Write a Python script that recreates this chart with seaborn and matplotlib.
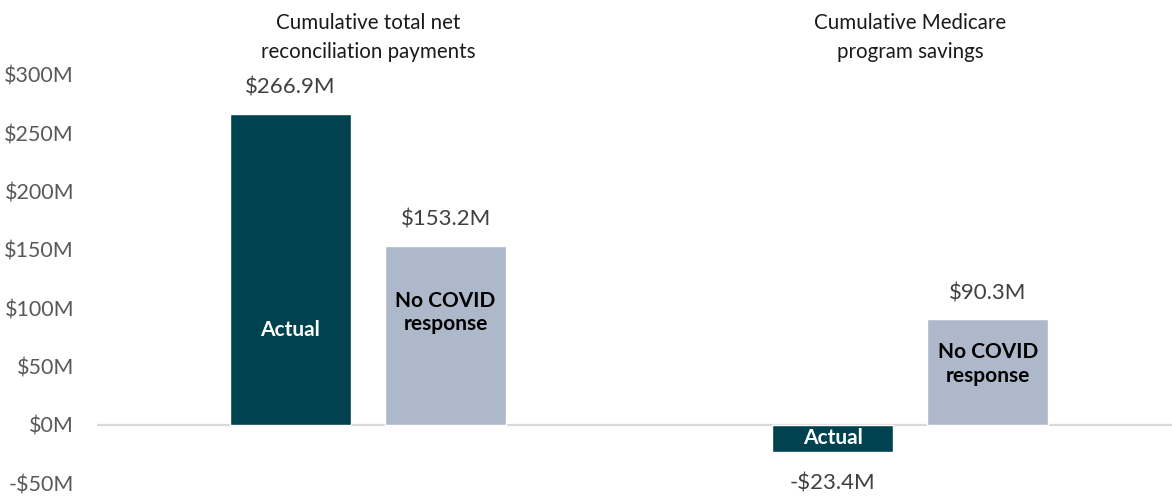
import matplotlib
matplotlib.use("Agg")
import matplotlib.pyplot as plt
import seaborn as sns
import pandas as pd

# Chart data (millions of dollars)
groups = ["Cumulative total net\nreconciliation payments",
          "Cumulative Medicare\nprogram savings"]
scenarios = ["Actual", "No COVID\nresponse"]
actual_values = [266.9, -23.4]
no_covid_values = [153.2, 90.3]
value_labels_actual = ["$266.9M", "-$23.4M"]
value_labels_no_covid = ["$153.2M", "$90.3M"]
y_ticks = [-50, 0, 50, 100, 150, 200, 250, 300]
y_tick_labels = ["-$50M", "$0M", "$50M", "$100M", "$150M", "$200M", "$250M", "$300M"]

df = pd.DataFrame({
    "group": groups * 2,
    "scenario": [scenarios[0]] * 2 + [scenarios[1]] * 2,
    "value": actual_values + no_covid_values,
})

sns.set_theme(style="white")
plt.rcParams["font.family"] = ["Lato", "DejaVu Sans"]

W, H = 1172, 496
fig = plt.figure(figsize=(W / 100, H / 100), dpi=100)
# axes spans -50M..300M vertically, zero line from x=97 to right edge
ax = fig.add_axes([97 / W, 1 - 483 / H, (W - 97) / W, (483 - 75) / H])

dark = "#00424F"
light = "#ADB9CA"
sns.barplot(data=df, x="group", y="value", hue="scenario",
            palette=[dark, light], width=0.572, gap=0.219,
            errorbar=None, ax=ax, legend=False, saturation=1)

ax.set_xlim(-0.5, 1.483)
ax.set_ylim(-50, 300)
ax.axhline(0, color="#D9D9D9", lw=1.6, zorder=0)
for s in ax.spines.values():
    s.set_visible(False)

ax.set_xticks([])
ax.set_xlabel("")
ax.set_ylabel("")
ax.set_yticks(y_ticks)
ax.set_yticklabels(y_tick_labels, fontsize=15.5, color="#595959")
ax.tick_params(axis="y", length=0, pad=16.5)

# value labels above positive bars, below negative ones
label_sets = [value_labels_actual, value_labels_no_covid]
for cont, labs in zip(ax.containers, label_sets):
    for bar, text in zip(cont, labs):
        h = bar.get_height()
        cx = bar.get_x() + bar.get_width() / 2
        off = 19 if h >= 0 else -22.5
        ax.annotate(text, (cx, h), xytext=(0, off), textcoords="offset points",
                    ha="center", va="center", fontsize=16, color="#404040")

# scenario names inside bars
inner_y = [[81, -11.5], [96, 52]]
inner_color = ["white", "black"]
for h, cont in enumerate(ax.containers):
    for i, bar in enumerate(cont):
        cx = bar.get_x() + bar.get_width() / 2
        ax.text(cx, inner_y[h][i], scenarios[h], ha="center", va="center",
                fontsize=15, fontweight="bold", color=inner_color[h],
                linespacing=1.2)

# group headings
for i, g in enumerate(groups):
    ax.text(i, 332, g, ha="center", va="center", fontsize=14.8,
            color="#1a1a1a", linespacing=1.55, clip_on=False)

fig.savefig("out.png", dpi=100)
